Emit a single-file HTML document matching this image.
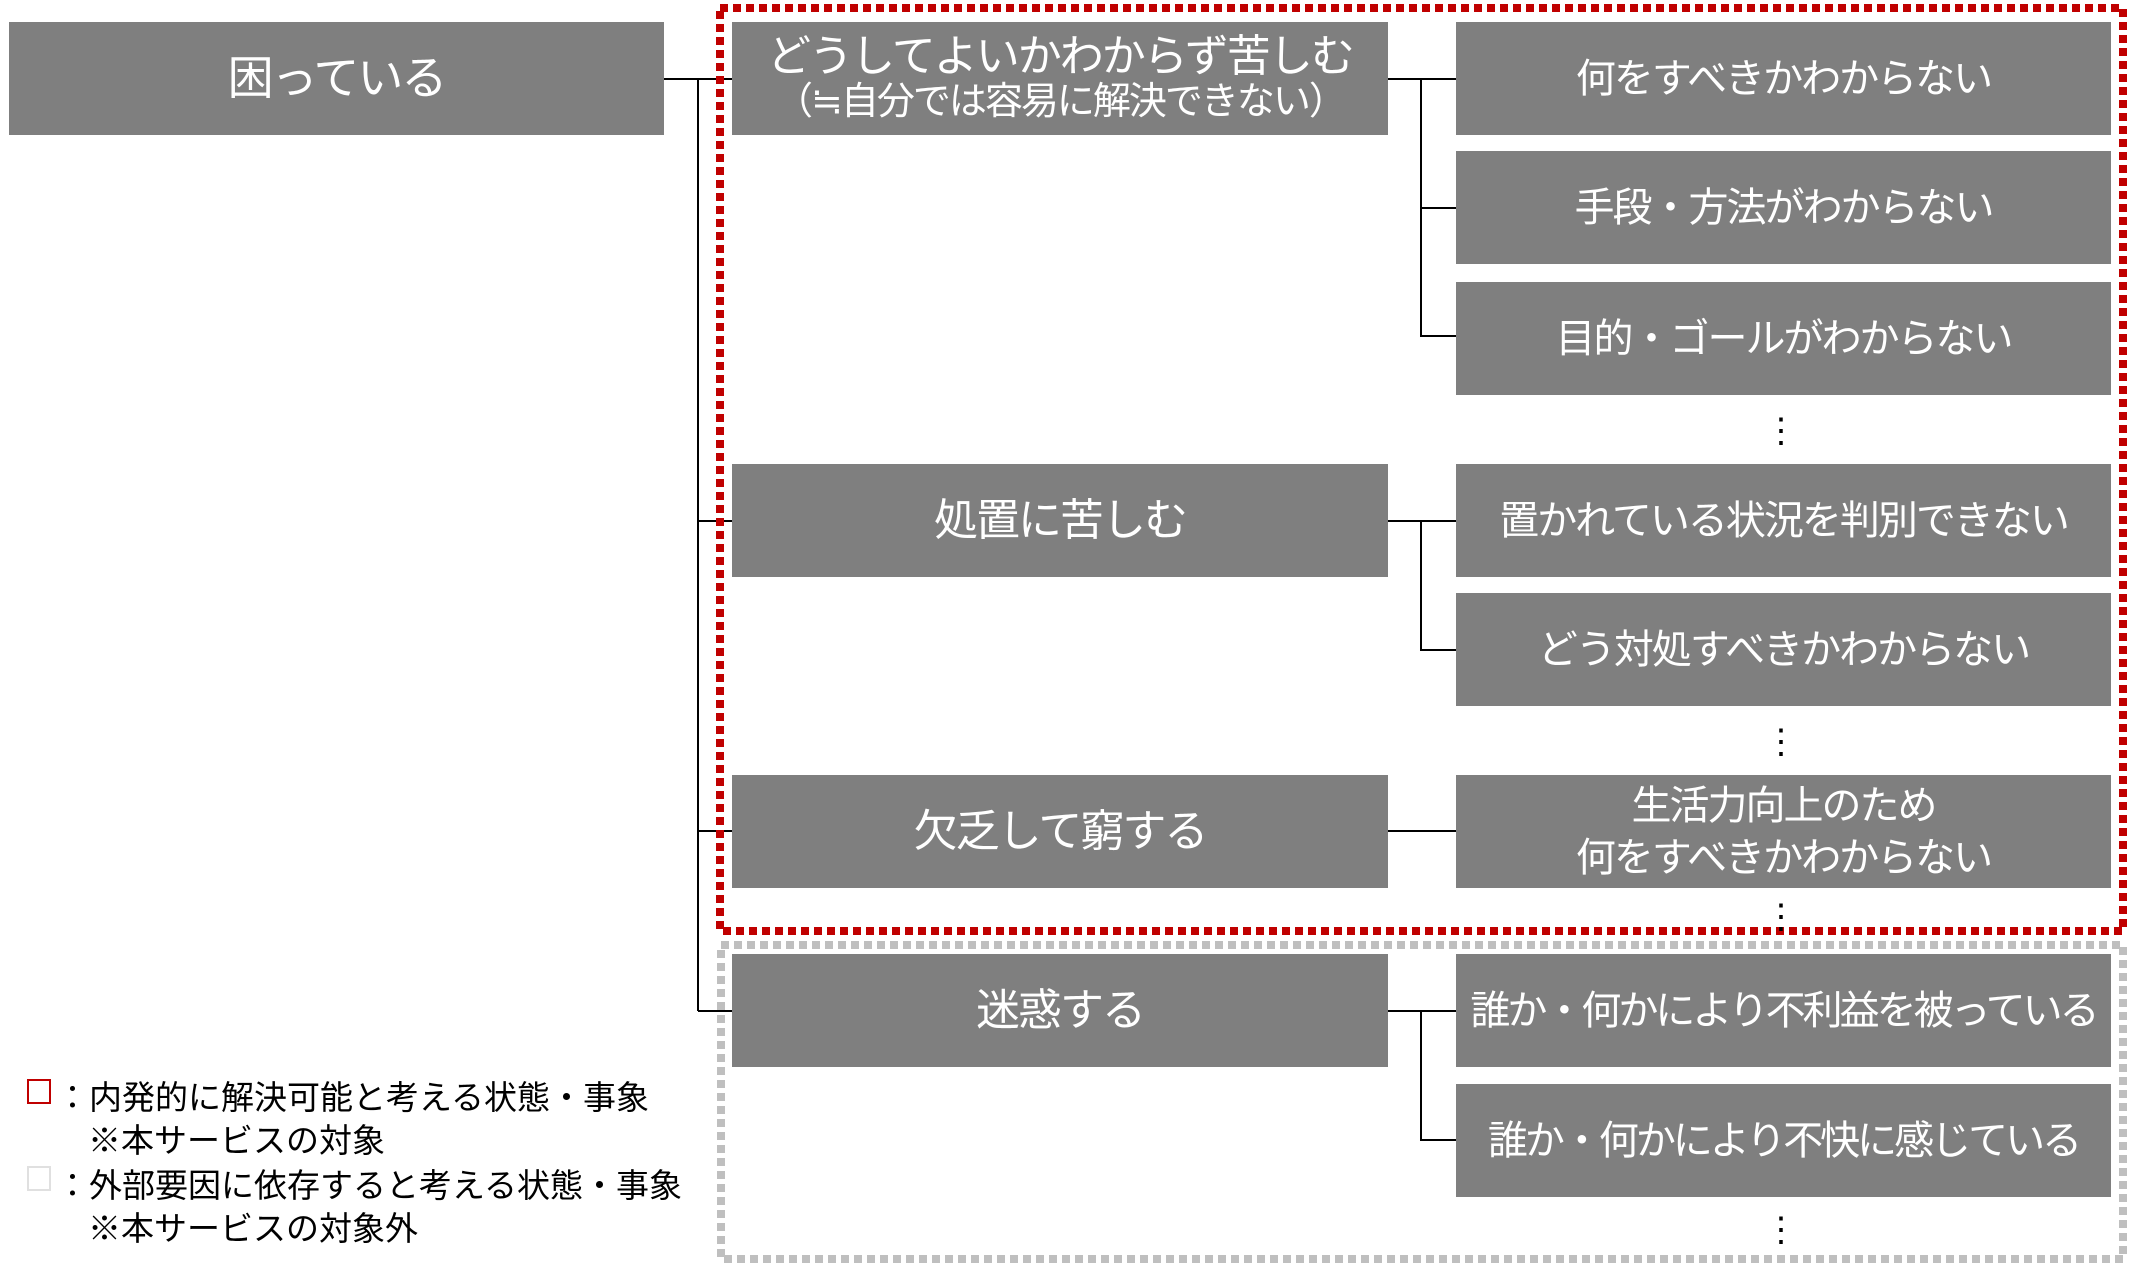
<!DOCTYPE html>
<html><head><meta charset="utf-8"><style>
body{margin:0;width:2133px;height:1281px;background:#fff;position:relative;overflow:hidden;font-family:"Liberation Sans","Noto Sans CJK JP",sans-serif;}
.b{position:absolute;background:#7f7f7f;color:#fff;display:flex;align-items:center;justify-content:center;text-align:center;line-height:1.25;white-space:nowrap;letter-spacing:-2px}
.l2{left:732px;width:656px;height:113px;font-size:44px}
.l3{left:1456px;width:655px;height:113px;font-size:40px}
.d{position:absolute;left:1764px;font-size:34px;line-height:1;color:#000}
.lg{position:absolute;font-size:33px;color:#000;white-space:nowrap;letter-spacing:0px}
</style></head><body>
<svg width="2133" height="1281" style="position:absolute;left:0;top:0">
<g stroke="#000" stroke-width="2" fill="none">
<path d="M664 79H732M698 79V1011M698 521H732M698 831H732M698 1011H732"/>
<path d="M1388 79H1456M1421 79V336H1456M1421 208H1456"/>
<path d="M1388 521H1456M1421 521V650H1456"/>
<path d="M1388 831H1456"/>
<path d="M1388 1011H1456M1421 1011V1140H1456"/>
</g>
<rect x="721" y="945" width="1402" height="314" fill="none" stroke="#bfbfbf" stroke-width="8" stroke-dasharray="8 5"/>
<rect x="720" y="8" width="1403" height="923" fill="none" stroke="#c00000" stroke-width="8" stroke-dasharray="8 5"/>
</svg>
<div class="b" style="left:9px;top:22px;width:655px;height:113px;font-size:46px">困っている</div>
<div class="b l2" style="top:22px;flex-direction:column;line-height:1.1"><span style="font-size:44px">どうしてよいかわからず苦しむ</span><span style="font-size:38px">（≒自分では容易に解決できない）</span></div>
<div class="b l2" style="top:464px">処置に苦しむ</div>
<div class="b l2" style="top:775px">欠乏して窮する</div>
<div class="b l2" style="top:954px">迷惑する</div>
<div class="b l3" style="top:22px">何をすべきかわからない</div>
<div class="b l3" style="top:151px">手段・方法がわからない</div>
<div class="b l3" style="top:282px">目的・ゴールがわからない</div>
<div class="b l3" style="top:464px">置かれている状況を判別できない</div>
<div class="b l3" style="top:593px">どう対処すべきかわからない</div>
<div class="b l3" style="top:775px;flex-direction:column;line-height:1.3">生活力向上のため<br>何をすべきかわからない</div>
<div class="b l3" style="top:954px;letter-spacing:-3px">誰か・何かにより不利益を被っている</div>
<div class="b l3" style="top:1084px;letter-spacing:-3px">誰か・何かにより不快に感じている</div>
<div class="d" style="top:414px">⋮</div>
<div class="d" style="top:725px">⋮</div>
<div class="d" style="top:900px">⋮</div>
<div class="d" style="top:1213px">⋮</div>
<div style="position:absolute;left:27px;top:1079px;width:24px;height:25px;border:2px solid #c00000;box-sizing:border-box"></div>
<div style="position:absolute;left:27px;top:1166px;width:24px;height:25px;border:2px solid #e0e0e0;box-sizing:border-box"></div>
<div class="lg" style="left:56px;top:1071px">：内発的に解決可能と考える状態・事象</div>
<div class="lg" style="left:88px;top:1114px">※本サービスの対象</div>
<div class="lg" style="left:56px;top:1159px">：外部要因に依存すると考える状態・事象</div>
<div class="lg" style="left:88px;top:1202px">※本サービスの対象外</div>
</body></html>
